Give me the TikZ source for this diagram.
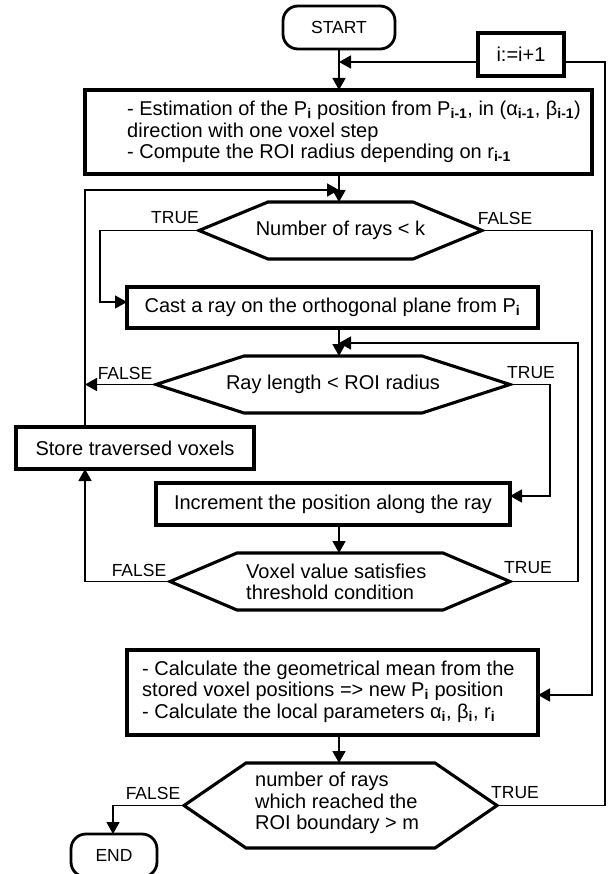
\documentclass[tikz,border=0pt]{standalone}
\usepackage{fontspec}
\setmainfont{Liberation Sans}
\usetikzlibrary{arrows.meta}
\newcommand{\sbs}[1]{\textsubscript{\bfseries #1}}
\tikzset{
  proc/.style={draw, line width=3.1pt, inner sep=0pt, outer sep=0pt},
  term/.style={draw, line width=2.8pt, rounded corners=15pt, inner sep=0pt, outer sep=0pt, font=\fontsize{17.5}{17.5}\selectfont},
  hexa/.style={inner sep=0pt, outer sep=0pt},
  hexline/.style={line width=3.1pt, line join=miter},
  conn/.style={line width=1.7pt},
  arr/.style={conn, -{Triangle[length=12pt,width=13pt]}},
  lbl/.style={font=\fontsize{17.5}{17.5}\selectfont, inner sep=0pt},
  txt/.style={inner sep=0pt, align=left},
  every node/.append style={font=\fontsize{20}{21.5}\selectfont},
}
\begin{document}
\begin{tikzpicture}[x=1pt,y=-1pt]
\useasboundingbox (0,0) rectangle (610,874);
\clip (0,0) rectangle (610,874);
\fill[white] (0,0) rectangle (610,874);
% nodes
\node[term, minimum width=112pt, minimum height=43pt] (start) at (339,27.5) {START};
\node[proc, minimum width=86pt, minimum height=43pt] (inc) at (521,54.5) {i:=i+1};
\node[proc, minimum width=507pt, minimum height=84pt] (est) at (338.5,132) {};
\node[txt, anchor=west] (estt) at (127,132) {- Estimation of the P\sbs{i} position from P\sbs{i-1}, in (α\sbs{i-1}, β\sbs{i-1})\\direction with one voxel step\\- Compute the ROI radius depending on r\sbs{i-1}};
\node[hexa, minimum width=283pt, minimum height=57pt] (d1) at (340.5,230.5) {Number of rays < k};
\draw[hexline] (d1.west) -- ([xshift=69pt]d1.north west) -- ([xshift=-69pt]d1.north east) -- (d1.east) -- ([xshift=-69pt]d1.south east) -- ([xshift=69pt]d1.south west) -- cycle;
\node[proc, minimum width=411pt, minimum height=41pt] (cast) at (332.5,307.5) {Cast a ray on the orthogonal plane from P\sbs{i}};
\node[hexa, minimum width=354pt, minimum height=57pt] (d2) at (333,384.5) {Ray length < ROI radius};
\draw[hexline] (d2.west) -- ([xshift=88pt]d2.north west) -- ([xshift=-88pt]d2.north east) -- (d2.east) -- ([xshift=-88pt]d2.south east) -- ([xshift=88pt]d2.south west) -- cycle;
\node[proc, minimum width=238pt, minimum height=42pt] (store) at (135,448) {Store traversed voxels};
\node[proc, minimum width=354pt, minimum height=42pt] (incr) at (333,504) {Increment the position along the ray};
\node[hexa, minimum width=340pt, minimum height=57pt] (d3) at (340,581.5) {};
\draw[hexline] (d3.west) -- ([xshift=67pt]d3.north west) -- ([xshift=-67pt]d3.north east) -- (d3.east) -- ([xshift=-67pt]d3.south east) -- ([xshift=67pt]d3.south west) -- cycle;
\node[txt, anchor=west] (d3t) at (246,582) {Voxel value satisfies\\threshold condition};
\node[proc, minimum width=411pt, minimum height=85pt] (calc) at (332.5,692.5) {};
\node[txt, anchor=west] (calct) at (142,691.5) {- Calculate the geometrical mean from the\\stored voxel positions => new P\sbs{i} position\\- Calculate the local parameters α\sbs{i}, β\sbs{i}, r\sbs{i}};
\node[hexa, minimum width=313pt, minimum height=85pt] (d4) at (340.5,805.5) {};
\draw[hexline] (d4.west) -- ([xshift=62pt]d4.north west) -- ([xshift=-62pt]d4.north east) -- (d4.east) -- ([xshift=-62pt]d4.south east) -- ([xshift=62pt]d4.south west) -- cycle;
\node[txt, anchor=west] (d4t) at (255,803) {number of rays\\which reached the\\ROI boundary > m};
\node[term, minimum width=86pt, minimum height=43pt] (end) at (114,855.5) {END};
% labels
\node[lbl] (l1t) at (175,218) {TRUE};
\node[lbl] (l1f) at (505,218) {FALSE};
\node[lbl] (l2f) at (125,373) {FALSE};
\node[lbl] (l2t) at (531,373) {TRUE};
\node[lbl] (l3f) at (139,570) {FALSE};
\node[lbl] (l3t) at (528,568) {TRUE};
\node[lbl] (l4f) at (153,793) {FALSE};
\node[lbl] (l4t) at (515,793) {TRUE};
% coordinates
\coordinate (j0) at (339,62);
\coordinate (j1) at (339,190);
\coordinate (j2) at (339,343);
\coordinate (lx) at (85,0);
\coordinate (t1) at (100,302);
\coordinate (f1) at (592,695);
\coordinate (t2) at (550,496);
\coordinate (r3) at (578,343);
\coordinate (e1) at (113,0);
\coordinate (r4) at (605,62);
% connectors
\draw[arr] (start.south -| j0) -- (est.north -| j0);
\draw[arr] ([yshift=-7.5pt]inc.west) -- (j0);
\draw[arr] (est.south -| j0) -- (d1.north -| j0);
\draw[arr] (store.north -| lx) |- (j1);
\draw[arr] (d1.west) -| (t1) -- (t1 -| cast.west);
\draw[arr] (d1.east) -| (f1) -- (f1 -| calc.east);
\draw[arr] (cast.south -| j0) -- (d2.north -| j0);
\draw[arr] (d2.west) -- (d2.west -| lx);
\draw[arr] (d2.east) -| (t2) -- (t2 -| incr.east);
\draw[arr] (incr.south -| j0) -- (d3.north -| j0);
\draw[arr] (d3.west) -| (store.south -| lx);
\draw[arr] (d3.east) -| (r3) -- (j2);
\draw[arr] (calc.south -| j0) -- (d4.north -| j0);
\draw[arr] (d4.west) -| (end.north -| e1);
\draw[conn] (d4.east) -| (r4) -- ([yshift=-7.5pt]inc.east);
\end{tikzpicture}
\end{document}
